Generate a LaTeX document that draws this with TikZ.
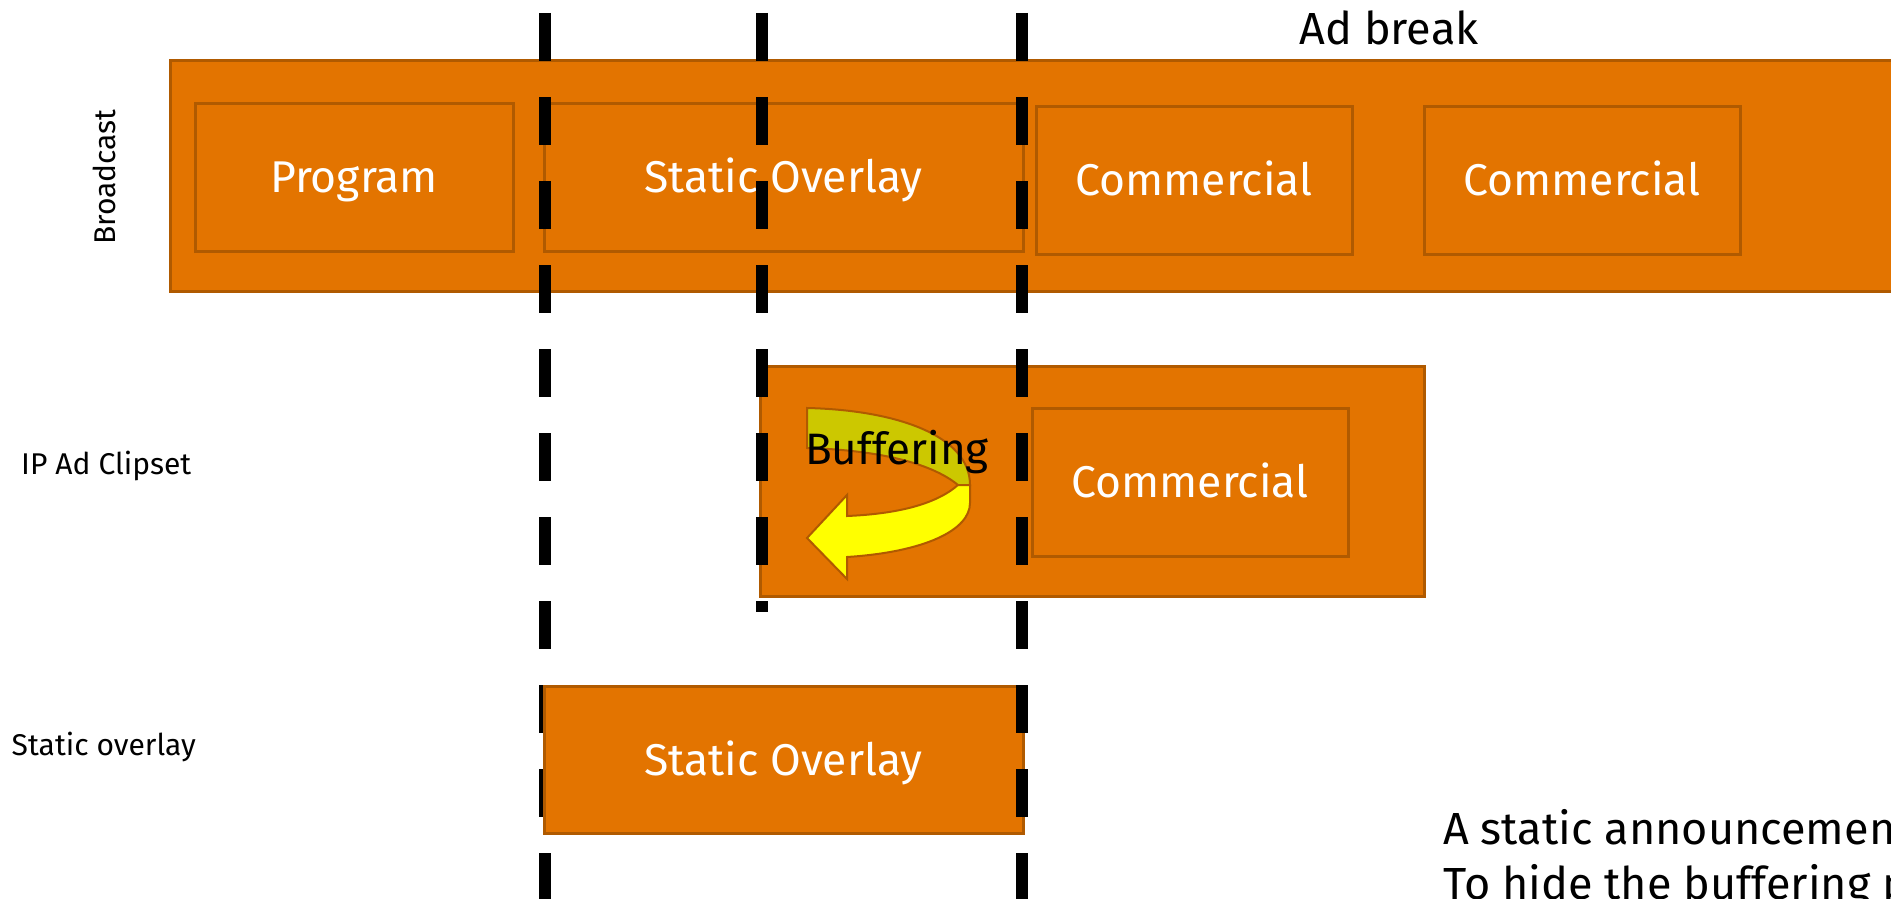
\documentclass[tikz,border=0pt]{standalone}
\usepackage{fontspec}
\setmainfont{Fira Sans}
\definecolor{slotfill}{HTML}{E37400}
\definecolor{slotedge}{HTML}{B05A00}
\definecolor{bandback}{HTML}{CCC800}
\definecolor{bandfront}{HTML}{FFFF00}
\tikzset{
  lane/.style={draw=slotedge, fill=slotfill, line width=3pt, inner sep=0pt},
  slot/.style={draw=slotedge, fill=slotfill, line width=3pt, inner sep=0pt,
    text=white, font=\fontsize{44.5}{54}\selectfont,
    text height=31pt, text depth=0pt},
  rowlabel/.style={inner sep=0pt, font=\fontsize{30}{36}\selectfont},
  bigtext/.style={inner sep=0pt, font=\fontsize{45}{55}\selectfont},
  cut/.style={line width=12pt, dash pattern=on 48pt off 36pt, line cap=butt},
  band/.style={draw=slotedge, line width=2pt, line join=miter}
}
\begin{document}
\begin{tikzpicture}[x=1pt, y=-1pt]
\useasboundingbox (0,0) rectangle (1891,899);
\clip (0,0) rectangle (1891,899);

% row labels
\node[rowlabel, rotate=90, anchor=base] (lbc) at (115,177) {Broadcast};
\node[rowlabel, anchor=base west] (lip) at (21,474) {IP Ad Clipset};
\node[rowlabel, anchor=base west] (lso) at (11.5,755) {Static overlay};

% broadcast lane
\node[lane, minimum width=1760pt, minimum height=230pt] (bc) at (1050,176) {};
\node[slot, minimum width=318pt, minimum height=148pt] (prog) at (354,177) {Program};
\node[slot, minimum width=479pt, minimum height=148pt] (sov1) at (783.5,177) {Static Overlay};
\node[slot, minimum width=316pt, minimum height=148pt] (com1) at (1194,180) {Commercial};
\node[slot, minimum width=316pt, minimum height=148pt] (com2) at (1582,180) {Commercial};
\node[bigtext, anchor=base] (adb) at (1389,45) {Ad break};

% IP ad clipset lane
\node[lane, minimum width=664pt, minimum height=230pt] (ip) at (1092,481) {};
\node[slot, minimum width=316pt, minimum height=148pt] (com3) at (1190,482) {Commercial};

% buffering u-turn arrow
\path[band, fill=bandback]
  (807,408) .. controls (895,410) and (970,435) .. (970,485)
  -- (958,485) .. controls (930,462) and (875,450) .. (807,448) -- cycle;
\path[band, fill=bandfront]
  (958,485) .. controls (935,505) and (895,514) .. (847,516)
  -- (847,495) -- (807,538) -- (847,579) -- (847,557)
  .. controls (925,552) and (970,530) .. (970,503)
  -- (970,485) -- cycle;
\node[bigtext, anchor=base west, font=\fontsize{44}{54}\selectfont] (buf) at (805,464) {Buffering};

% time cuts
\coordinate (c1t) at (545,13);  \coordinate (c1b) at (545,905);
\coordinate (c2t) at (762,13);  \coordinate (c2b) at (762,612);
\coordinate (c3t) at (1022,13); \coordinate (c3b) at (1022,905);
\draw[cut] (c1t) -- (c1b);

% static overlay lane
\node[slot, minimum width=479pt, minimum height=147pt] (sov2) at (783.5,759.5) {Static Overlay};

\draw[cut] (c2t) -- (c2b);
\draw[cut] (c3t) -- (c3b);

% note
\node[bigtext, anchor=base west] (note1) at (1443,844) {A static announcement};
\node[bigtext, anchor=base west] (note2) at (1443,899) {To hide the buffering period};
\end{tikzpicture}
\end{document}
